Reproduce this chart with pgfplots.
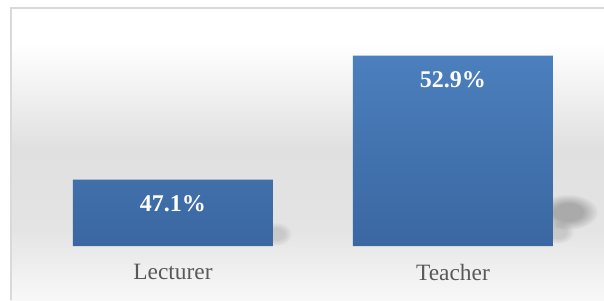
\documentclass[border=0pt]{standalone}
\usepackage{pgfplots}
\pgfplotsset{compat=1.18}
\usepackage{fontspec}
\setmainfont{Liberation Serif}
\usetikzlibrary{fadings}
\definecolor{barTop}{HTML}{4B7FBD}
\definecolor{barBot}{HTML}{3A67A1}
\definecolor{bgA}{HTML}{F8F8F8}
\definecolor{bgB}{HTML}{F0F0F0}
\definecolor{bgC}{HTML}{E4E4E4}
\definecolor{bgD}{HTML}{E0E0E0}
\definecolor{lineGray}{HTML}{D9D9D9}
\definecolor{labelGray}{HTML}{595959}
\definecolor{fadeOpaque}{gray}{1}
\definecolor{fadeClear}{gray}{0}
\pgfdeclareverticalshading{bgshade}{100bp}{color(0bp)=(bgA); color(25bp)=(bgA); color(30bp)=(bgB); color(37bp)=(bgC); color(51bp)=(bgD); color(69bp)=(white); color(100bp)=(white)}
\pgfdeclareradialshading{softshade}{\pgfpointorigin}{color(0bp)=(fadeOpaque); color(12bp)=(fadeOpaque); color(25bp)=(fadeClear); color(50bp)=(fadeClear)}
\pgfdeclarefading{softshadow}{\pgfuseshading{softshade}}
\begin{document}
\begin{tikzpicture}
\useasboundingbox (0,0) rectangle (302pt,150pt);
\fill[white] (0,0) rectangle (302pt,150pt);
\shade[shading=bgshade] (5pt,0) rectangle (302pt,145.75pt);
\draw[line width=1pt, color=lineGray] (5.5pt,0) -- (5.5pt,145.75pt) -- (302pt,145.75pt);
\begin{axis}[
 at={(5pt,27pt)}, anchor=south west,
 scale only axis, width=295pt, height=106.9pt,
 xmin=-0.582, xmax=1.525, ymin=0, ymax=10,
 y filter/.expression={y-44},
 axis line style={draw=none},
 ytick=\empty, xtick={0,1}, xticklabels={Lecturer,Teacher},
 major tick length=0pt,
 xticklabel style={anchor=center, yshift=-13pt, inner sep=0pt, font=\fontsize{11.7}{14}\selectfont, text=labelGray},
 ybar, bar width=100pt,
 clip=false,
]
% soft shadows (decoration)
\fill[black, opacity=0.25, path fading=softshadow] (rel axis cs:0.9458,0.1590) ellipse [x radius=15pt, y radius=9pt];
\fill[black, opacity=0.12, path fading=softshadow] (rel axis cs:0.9288,0.0655) ellipse [x radius=8pt, y radius=6pt];
\fill[black, opacity=0.12, path fading=softshadow] (rel axis cs:0.4508,0.0561) ellipse [x radius=8pt, y radius=6pt];
\addplot[draw=none, top color=barTop, bottom color=barBot,
  point meta=rawy,
  nodes near coords={\pgfmathprintnumber[fixed,precision=1,fixed zerofill,assume math mode=true]{\pgfplotspointmeta}\%},
  every node near coord/.append style={anchor=center, yshift=-12pt, inner sep=0pt, text=white, font=\bfseries\fontsize{12}{14}\selectfont}
] coordinates {(0,47.1) (1,52.9)};
\end{axis}
\end{tikzpicture}
\end{document}
